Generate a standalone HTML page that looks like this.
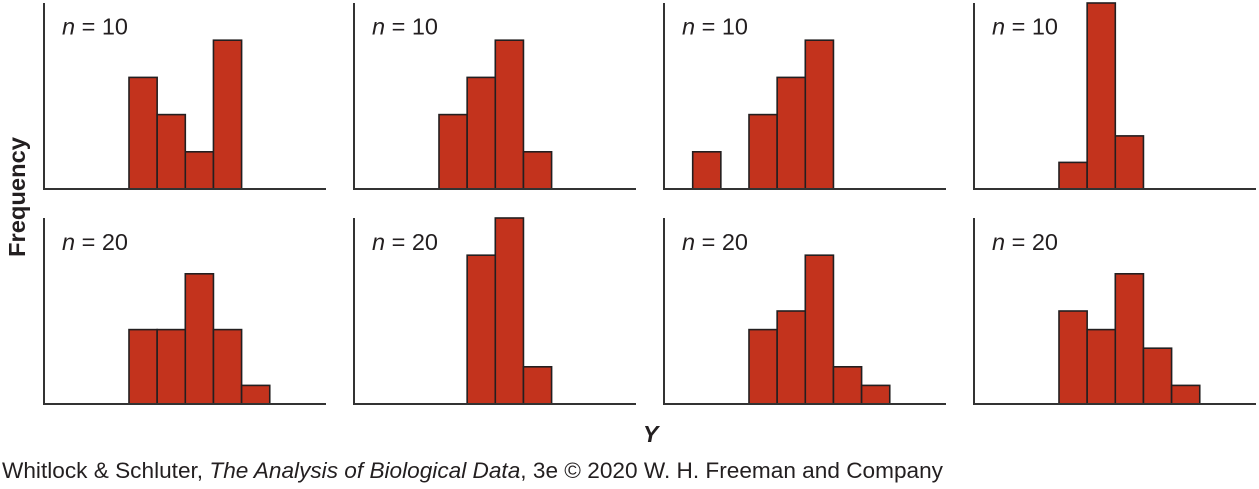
<!DOCTYPE html>
<html>
<head>
<meta charset="utf-8">
<style>
html,body{margin:0;padding:0;background:#fff;}
svg{display:block;}
text{font-family:"Liberation Sans",sans-serif;fill:#231f20;}
</style>
</head>
<body>
<svg width="1259" height="489" viewBox="0 0 1259 489" xmlns="http://www.w3.org/2000/svg">
<g fill="#c3331d" stroke="#231f20" stroke-width="1.6">
<rect x="129" y="77.4" width="28.15" height="111.6"/>
<rect x="157.15" y="114.6" width="28.15" height="74.4"/>
<rect x="185.3" y="151.8" width="28.15" height="37.2"/>
<rect x="213.45" y="40.2" width="28.15" height="148.8"/>
<rect x="439" y="114.6" width="28.15" height="74.4"/>
<rect x="467.15" y="77.4" width="28.15" height="111.6"/>
<rect x="495.3" y="40.2" width="28.15" height="148.8"/>
<rect x="523.45" y="151.8" width="28.15" height="37.2"/>
<rect x="692.7" y="151.8" width="28.15" height="37.2"/>
<rect x="749" y="114.6" width="28.15" height="74.4"/>
<rect x="777.15" y="77.4" width="28.15" height="111.6"/>
<rect x="805.3" y="40.2" width="28.15" height="148.8"/>
<rect x="1059" y="162.4" width="28.15" height="26.6"/>
<rect x="1087.15" y="3" width="28.15" height="186"/>
<rect x="1115.3" y="135.9" width="28.15" height="53.1"/>
<rect x="129" y="329.6" width="28.15" height="74.4"/>
<rect x="157.15" y="329.6" width="28.15" height="74.4"/>
<rect x="185.3" y="273.8" width="28.15" height="130.2"/>
<rect x="213.45" y="329.6" width="28.15" height="74.4"/>
<rect x="241.6" y="385.4" width="28.15" height="18.6"/>
<rect x="467.15" y="255.2" width="28.15" height="148.8"/>
<rect x="495.3" y="218" width="28.15" height="186"/>
<rect x="523.45" y="366.8" width="28.15" height="37.2"/>
<rect x="749" y="329.6" width="28.15" height="74.4"/>
<rect x="777.15" y="311" width="28.15" height="93"/>
<rect x="805.3" y="255.2" width="28.15" height="148.8"/>
<rect x="833.45" y="366.8" width="28.15" height="37.2"/>
<rect x="861.6" y="385.4" width="28.15" height="18.6"/>
<rect x="1059" y="311" width="28.15" height="93"/>
<rect x="1087.15" y="329.6" width="28.15" height="74.4"/>
<rect x="1115.3" y="273.8" width="28.15" height="130.2"/>
<rect x="1143.45" y="348.2" width="28.15" height="55.8"/>
<rect x="1171.6" y="385.4" width="28.15" height="18.6"/>
</g>
<g fill="none" stroke="#333" stroke-width="2">
<path d="M44 3 V189 H326"/>
<path d="M354 3 V189 H636"/>
<path d="M664 3 V189 H946"/>
<path d="M974 3 V189 H1256"/>
<path d="M44 218 V404 H326"/>
<path d="M354 218 V404 H636"/>
<path d="M664 218 V404 H946"/>
<path d="M974 218 V404 H1256"/>
</g>
<g font-size="23">
<text x="62" y="34.5" textLength="66" lengthAdjust="spacingAndGlyphs"><tspan font-style="italic">n</tspan> = 10</text>
<text x="372" y="34.5" textLength="66" lengthAdjust="spacingAndGlyphs"><tspan font-style="italic">n</tspan> = 10</text>
<text x="682" y="34.5" textLength="66" lengthAdjust="spacingAndGlyphs"><tspan font-style="italic">n</tspan> = 10</text>
<text x="992" y="34.5" textLength="66" lengthAdjust="spacingAndGlyphs"><tspan font-style="italic">n</tspan> = 10</text>
<text x="62" y="250" textLength="66" lengthAdjust="spacingAndGlyphs"><tspan font-style="italic">n</tspan> = 20</text>
<text x="372" y="250" textLength="66" lengthAdjust="spacingAndGlyphs"><tspan font-style="italic">n</tspan> = 20</text>
<text x="682" y="250" textLength="66" lengthAdjust="spacingAndGlyphs"><tspan font-style="italic">n</tspan> = 20</text>
<text x="992" y="250" textLength="66" lengthAdjust="spacingAndGlyphs"><tspan font-style="italic">n</tspan> = 20</text>
</g>
<text transform="translate(25,197) rotate(-90)" text-anchor="middle" font-size="23" font-weight="bold" textLength="120" lengthAdjust="spacingAndGlyphs">Frequency</text>
<text x="643" y="442" font-size="23" font-weight="bold" font-style="italic">Y</text>
<text x="2" y="478" font-size="22" textLength="941" lengthAdjust="spacingAndGlyphs">Whitlock &amp; Schluter, <tspan font-style="italic">The Analysis of Biological Data</tspan>, 3e © 2020 W. H. Freeman and Company</text>
</svg>
</body>
</html>
